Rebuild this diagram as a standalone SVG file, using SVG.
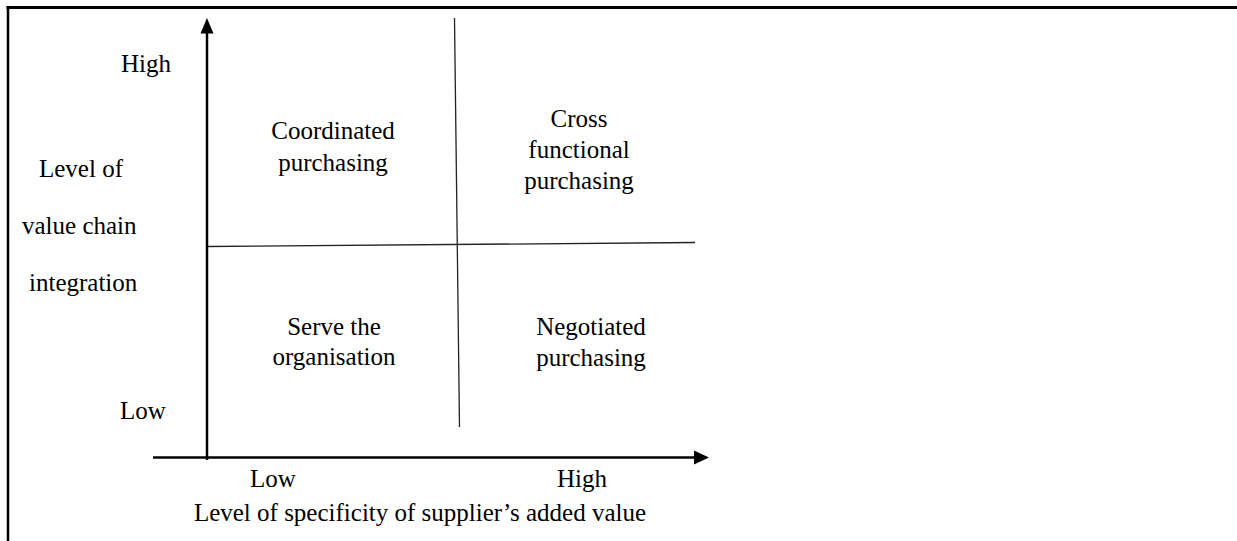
<svg xmlns="http://www.w3.org/2000/svg" width="1237" height="541" viewBox="0 0 1237 541">
<style>
text{font-family:"Liberation Serif","Times New Roman",serif;font-size:25px;fill:#000}
.m{text-anchor:middle}
.ax{stroke:#000;stroke-width:2.5;fill:none}
.dv{stroke:#222;stroke-width:1.3;fill:none}
</style>
<rect width="1237" height="541" fill="#fff"/>
<g id="frame">
<line x1="6.5" y1="7.5" x2="1237" y2="7.5" stroke="#000" stroke-width="3"/>
<line x1="8" y1="6" x2="8" y2="541" stroke="#000" stroke-width="2.5"/>
</g>
<g id="connectors">
<line class="ax" x1="207" y1="460" x2="207" y2="30"/>
<polygon points="207,18 200.5,33.5 213.5,33.5" fill="#000"/>
<line class="ax" x1="153" y1="457.5" x2="696" y2="457.5"/>
<polygon points="709,457.5 694,450.5 694,464.5" fill="#000"/>
<line class="dv" x1="454.5" y1="18" x2="459.5" y2="427"/>
<line class="dv" x1="208" y1="246.5" x2="695" y2="242.5"/>
</g>
<g id="y-axis-labels">
<text x="121" y="72">High</text>
<text x="39" y="177">Level of</text>
<text x="22" y="234">value chain</text>
<text x="29" y="291">integration</text>
<text x="120" y="419">Low</text>
</g>
<g id="q-coordinated"><text class="m" x="333" y="139">Coordinated</text><text class="m" x="333" y="171">purchasing</text></g>
<g id="q-cross"><text class="m" x="579" y="127">Cross</text><text class="m" x="579" y="158">functional</text><text class="m" x="579" y="189">purchasing</text></g>
<g id="q-serve"><text class="m" x="334" y="335">Serve the</text><text class="m" x="334" y="365">organisation</text></g>
<g id="q-negotiated"><text class="m" x="591" y="335">Negotiated</text><text class="m" x="591" y="366">purchasing</text></g>
<g id="x-axis-labels">
<text x="250" y="487">Low</text>
<text x="557" y="487">High</text>
<text class="m" x="420" y="521">Level of specificity of supplier’s added value</text>
</g>
</svg>
